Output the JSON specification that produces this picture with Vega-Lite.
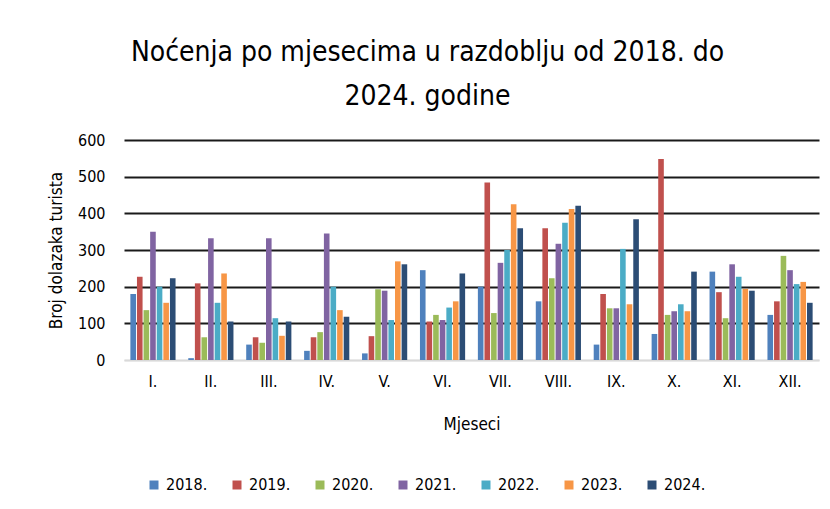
{
  "$schema": "https://vega.github.io/schema/vega-lite/v6.json",
  "autosize": {"type": "none"},
  "width": 695,
  "height": 220,
  "padding": {"left": 124, "top": 140, "right": 11, "bottom": 149},
  "background": "white",
  "config": {
    "font": "Liberation Sans Narrow, DejaVu Sans Condensed, sans-serif",
    "view": {"stroke": null}
  },
  "title": {
    "text": ["Noćenja po mjesecima u razdoblju od 2018. do", "2024. godine"],
    "fontSize": 28,
    "fontWeight": "normal",
    "color": "#000000",
    "lineHeight": 44,
    "anchor": "middle",
    "frame": "group",
    "dx": -44,
    "offset": 21
  },
  "data": {
    "values": [
      {"m": "I.", "g": "2018.", "v": 180}, {"m": "I.", "g": "2019.", "v": 227}, {"m": "I.", "g": "2020.", "v": 136}, {"m": "I.", "g": "2021.", "v": 350}, {"m": "I.", "g": "2022.", "v": 200}, {"m": "I.", "g": "2023.", "v": 156}, {"m": "I.", "g": "2024.", "v": 223},
      {"m": "II.", "g": "2018.", "v": 5}, {"m": "II.", "g": "2019.", "v": 209}, {"m": "II.", "g": "2020.", "v": 62}, {"m": "II.", "g": "2021.", "v": 332}, {"m": "II.", "g": "2022.", "v": 156}, {"m": "II.", "g": "2023.", "v": 236}, {"m": "II.", "g": "2024.", "v": 105},
      {"m": "III.", "g": "2018.", "v": 42}, {"m": "III.", "g": "2019.", "v": 62}, {"m": "III.", "g": "2020.", "v": 47}, {"m": "III.", "g": "2021.", "v": 332}, {"m": "III.", "g": "2022.", "v": 114}, {"m": "III.", "g": "2023.", "v": 66}, {"m": "III.", "g": "2024.", "v": 105},
      {"m": "IV.", "g": "2018.", "v": 25}, {"m": "IV.", "g": "2019.", "v": 62}, {"m": "IV.", "g": "2020.", "v": 76}, {"m": "IV.", "g": "2021.", "v": 345}, {"m": "IV.", "g": "2022.", "v": 200}, {"m": "IV.", "g": "2023.", "v": 136}, {"m": "IV.", "g": "2024.", "v": 118},
      {"m": "V.", "g": "2018.", "v": 18}, {"m": "V.", "g": "2019.", "v": 65}, {"m": "V.", "g": "2020.", "v": 193}, {"m": "V.", "g": "2021.", "v": 189}, {"m": "V.", "g": "2022.", "v": 109}, {"m": "V.", "g": "2023.", "v": 269}, {"m": "V.", "g": "2024.", "v": 261},
      {"m": "VI.", "g": "2018.", "v": 245}, {"m": "VI.", "g": "2019.", "v": 105}, {"m": "VI.", "g": "2020.", "v": 123}, {"m": "VI.", "g": "2021.", "v": 109}, {"m": "VI.", "g": "2022.", "v": 143}, {"m": "VI.", "g": "2023.", "v": 160}, {"m": "VI.", "g": "2024.", "v": 236},
      {"m": "VII.", "g": "2018.", "v": 200}, {"m": "VII.", "g": "2019.", "v": 484}, {"m": "VII.", "g": "2020.", "v": 128}, {"m": "VII.", "g": "2021.", "v": 265}, {"m": "VII.", "g": "2022.", "v": 300}, {"m": "VII.", "g": "2023.", "v": 425}, {"m": "VII.", "g": "2024.", "v": 359},
      {"m": "VIII.", "g": "2018.", "v": 160}, {"m": "VIII.", "g": "2019.", "v": 359}, {"m": "VIII.", "g": "2020.", "v": 223}, {"m": "VIII.", "g": "2021.", "v": 317}, {"m": "VIII.", "g": "2022.", "v": 374}, {"m": "VIII.", "g": "2023.", "v": 412}, {"m": "VIII.", "g": "2024.", "v": 421},
      {"m": "IX.", "g": "2018.", "v": 42}, {"m": "IX.", "g": "2019.", "v": 180}, {"m": "IX.", "g": "2020.", "v": 141}, {"m": "IX.", "g": "2021.", "v": 141}, {"m": "IX.", "g": "2022.", "v": 303}, {"m": "IX.", "g": "2023.", "v": 152}, {"m": "IX.", "g": "2024.", "v": 384},
      {"m": "X.", "g": "2018.", "v": 71}, {"m": "X.", "g": "2019.", "v": 548}, {"m": "X.", "g": "2020.", "v": 123}, {"m": "X.", "g": "2021.", "v": 133}, {"m": "X.", "g": "2022.", "v": 152}, {"m": "X.", "g": "2023.", "v": 133}, {"m": "X.", "g": "2024.", "v": 241},
      {"m": "XI.", "g": "2018.", "v": 241}, {"m": "XI.", "g": "2019.", "v": 185}, {"m": "XI.", "g": "2020.", "v": 114}, {"m": "XI.", "g": "2021.", "v": 261}, {"m": "XI.", "g": "2022.", "v": 227}, {"m": "XI.", "g": "2023.", "v": 194}, {"m": "XI.", "g": "2024.", "v": 189},
      {"m": "XII.", "g": "2018.", "v": 123}, {"m": "XII.", "g": "2019.", "v": 160}, {"m": "XII.", "g": "2020.", "v": 284}, {"m": "XII.", "g": "2021.", "v": 245}, {"m": "XII.", "g": "2022.", "v": 207}, {"m": "XII.", "g": "2023.", "v": 213}, {"m": "XII.", "g": "2024.", "v": 156}
    ]
  },
  "mark": {"type": "bar"},
  "encoding": {
    "x": {
      "field": "m",
      "type": "nominal",
      "sort": null,
      "scale": {"paddingInner": 0.22, "paddingOuter": 0.11},
      "axis": {
        "title": "Mjeseci",
        "titleFontSize": 17,
        "titleFontWeight": "normal",
        "titleColor": "#000000",
        "titlePadding": 27,
        "labelAngle": 0,
        "labelFontSize": 16,
        "labelColor": "#000000",
        "labelPadding": 13,
        "ticks": false,
        "domain": true,
        "domainColor": "#d9d9d9",
        "domainWidth": 1.5
      }
    },
    "xOffset": {"field": "g", "type": "nominal", "sort": null, "scale": {"paddingInner": 0.15}},
    "y": {
      "field": "v",
      "type": "quantitative",
      "scale": {"domain": [0, 600], "nice": false},
      "axis": {
        "title": "Broj dolazaka turista",
        "titleFontSize": 17,
        "titleFontWeight": "normal",
        "titleColor": "#000000",
        "titlePadding": 12,
        "values": [0, 100, 200, 300, 400, 500, 600],
        "labelFontSize": 16,
        "labelColor": "#000000",
        "labelPadding": 19,
        "ticks": false,
        "domain": false,
        "grid": true,
        "gridColor": {"condition": {"test": "datum.value === 0", "value": "#d9d9d9"}, "value": "#1a1a1a"},
        "gridWidth": 2
      }
    },
    "color": {
      "field": "g",
      "type": "nominal",
      "sort": null,
      "scale": {"range": ["#4F81BD", "#C0504D", "#9BBB59", "#8064A2", "#4BACC6", "#F79646", "#2C4D75"]},
      "legend": {
        "title": null,
        "orient": "none",
        "direction": "horizontal",
        "legendX": 22,
        "legendY": 337,
        "symbolType": "square",
        "symbolSize": 81,
        "symbolStrokeWidth": 0,
        "labelFontSize": 16,
        "labelColor": "#000000",
        "labelOffset": 4,
        "columnPadding": 21
      }
    }
  }
}
